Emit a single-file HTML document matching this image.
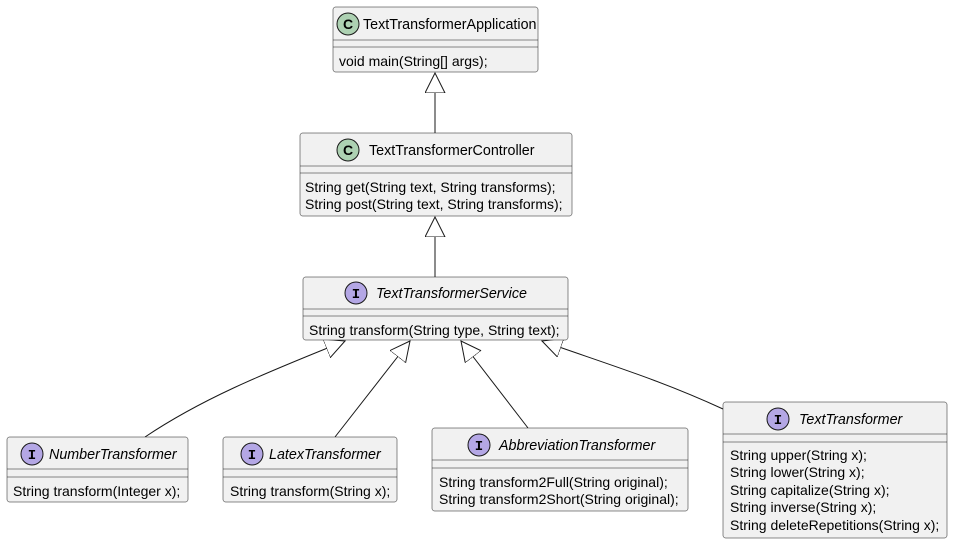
<!DOCTYPE html>
<html><head><meta charset="utf-8"><style>
html,body{margin:0;padding:0;background:#fff}
svg{display:block}
text{font-family:"Liberation Sans",sans-serif;fill:#000}
.m{font-size:14px}
.h{font-size:14.3px}
.i{font-style:italic}
.b{fill:#f1f1f1;stroke:#181818;stroke-width:0.5}
.s{stroke:#181818;stroke-width:0.5}
.e{fill:none;stroke:#181818;stroke-width:1}
</style></head><body>
<svg width="953" height="544" viewBox="0 0 953 544" xmlns="http://www.w3.org/2000/svg">
<defs>
<marker id="t" markerUnits="userSpaceOnUse" markerWidth="24" markerHeight="24" refX="20" refY="10" orient="auto">
<path d="M20,10 L0,0 L0,20 Z" fill="#fff" stroke="#181818" stroke-width="1"/>
</marker>
</defs>
<path class="e" d="M435,133 L435,73" marker-end="url(#t)"/>
<path class="e" d="M435,277 L435,217" marker-end="url(#t)"/>
<path class="e" d="M145,437 C200,400 260,375 345,341" marker-end="url(#t)"/>
<path class="e" d="M335,437 L410,341" marker-end="url(#t)"/>
<path class="e" d="M528,428 L461,341" marker-end="url(#t)"/>
<path class="e" d="M723,409 C660,380 610,365 542,341" marker-end="url(#t)"/>

<rect class="b" x="333" y="7" width="205" height="65" rx="2.5"/>
<line class="s" x1="333" y1="40" x2="538" y2="40"/><line class="s" x1="333" y1="47" x2="538" y2="47"/>
<circle cx="348" cy="24" r="11" fill="#add1b2" stroke="#181818" stroke-width="1"/>
<text x="348" y="29" text-anchor="middle" style="font-weight:bold;font-size:14px">C</text>
<text class="h" x="363" y="29">TextTransformerApplication</text>
<text class="m" x="339" y="66">void main(String[] args);</text>

<rect class="b" x="300" y="133" width="272" height="83" rx="2.5"/>
<line class="s" x1="300" y1="166" x2="572" y2="166"/><line class="s" x1="300" y1="173" x2="572" y2="173"/>
<circle cx="348" cy="150" r="11" fill="#add1b2" stroke="#181818" stroke-width="1"/>
<text x="348" y="155" text-anchor="middle" style="font-weight:bold;font-size:14px">C</text>
<text class="h" x="369" y="155">TextTransformerController</text>
<text class="m" x="305" y="192">String get(String text, String transforms);</text>
<text class="m" x="305" y="209">String post(String text, String transforms);</text>

<rect class="b" x="303" y="277" width="265" height="63" rx="2.5"/>
<line class="s" x1="303" y1="309" x2="568" y2="309"/><line class="s" x1="303" y1="316" x2="568" y2="316"/>
<circle cx="356" cy="293" r="11" fill="#b4a7e5" stroke="#181818" stroke-width="1"/>
<text x="356" y="298" text-anchor="middle" style="font-weight:bold;font-size:14px;font-family:'Liberation Mono',monospace">I</text>
<text class="h i" x="376" y="298">TextTransformerService</text>
<text class="m" x="309" y="335">String transform(String type, String text);</text>

<rect class="b" x="7" y="437" width="181" height="65" rx="2.5"/>
<line class="s" x1="7" y1="469" x2="188" y2="469"/><line class="s" x1="7" y1="477" x2="188" y2="477"/>
<circle cx="32" cy="454" r="11" fill="#b4a7e5" stroke="#181818" stroke-width="1"/>
<text x="32" y="459" text-anchor="middle" style="font-weight:bold;font-size:14px;font-family:'Liberation Mono',monospace">I</text>
<text class="h i" x="49" y="459">NumberTransformer</text>
<text class="m" x="13" y="496">String transform(Integer x);</text>

<rect class="b" x="223" y="437" width="174" height="65" rx="2.5"/>
<line class="s" x1="223" y1="469" x2="397" y2="469"/><line class="s" x1="223" y1="477" x2="397" y2="477"/>
<circle cx="252" cy="454" r="11" fill="#b4a7e5" stroke="#181818" stroke-width="1"/>
<text x="252" y="459" text-anchor="middle" style="font-weight:bold;font-size:14px;font-family:'Liberation Mono',monospace">I</text>
<text class="h i" x="269" y="459">LatexTransformer</text>
<text class="m" x="230" y="496">String transform(String x);</text>

<rect class="b" x="432" y="428" width="256" height="83" rx="2.5"/>
<line class="s" x1="432" y1="460" x2="688" y2="460"/><line class="s" x1="432" y1="468" x2="688" y2="468"/>
<circle cx="479" cy="445" r="11" fill="#b4a7e5" stroke="#181818" stroke-width="1"/>
<text x="479" y="450" text-anchor="middle" style="font-weight:bold;font-size:14px;font-family:'Liberation Mono',monospace">I</text>
<text class="h i" x="499" y="450">AbbreviationTransformer</text>
<text class="m" x="439" y="487">String transform2Full(String original);</text>
<text class="m" x="439" y="504">String transform2Short(String original);</text>

<rect class="b" x="723" y="402" width="224" height="136" rx="2.5"/>
<line class="s" x1="723" y1="434" x2="947" y2="434"/><line class="s" x1="723" y1="442" x2="947" y2="442"/>
<circle cx="778" cy="419" r="11" fill="#b4a7e5" stroke="#181818" stroke-width="1"/>
<text x="778" y="424" text-anchor="middle" style="font-weight:bold;font-size:14px;font-family:'Liberation Mono',monospace">I</text>
<text class="h i" x="799" y="424">TextTransformer</text>
<text class="m" x="730" y="460">String upper(String x);</text>
<text class="m" x="730" y="477">String lower(String x);</text>
<text class="m" x="730" y="495">String capitalize(String x);</text>
<text class="m" x="730" y="512">String inverse(String x);</text>
<text class="m" x="730" y="530">String deleteRepetitions(String x);</text>
</svg>
</body></html>
